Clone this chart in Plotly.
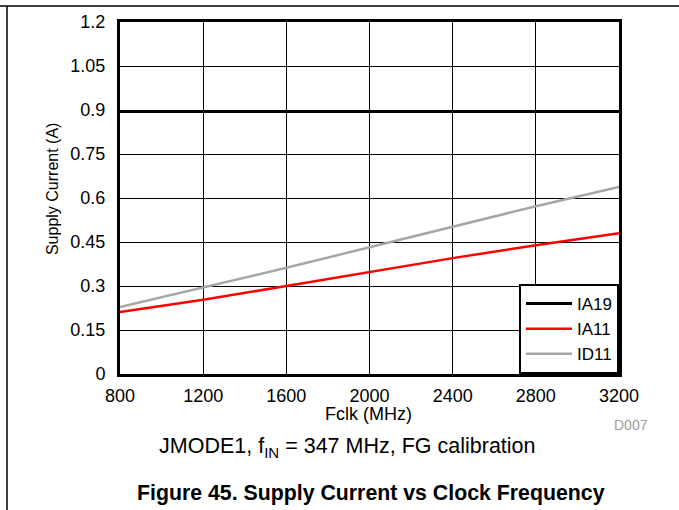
import plotly.graph_objects as go

fclk = [800, 1200, 1600, 2000, 2400, 2800, 3200]
ia19 = [0.895, 0.895, 0.895, 0.895, 0.895, 0.895, 0.895]
ia11 = [0.211, 0.253, 0.300, 0.348, 0.395, 0.439, 0.480]
id11 = [0.228, 0.294, 0.362, 0.432, 0.503, 0.572, 0.638]
x_ticks = [800, 1200, 1600, 2000, 2400, 2800, 3200]
y_ticks = [0, 0.15, 0.3, 0.45, 0.6, 0.75, 0.9, 1.05, 1.2]
y_ticktext = ["0", "0.15", "0.3", "0.45", "0.6", "0.75", "0.9", "1.05", "1.2"]

FONT = "Liberation Sans, Arial, sans-serif"

fig = go.Figure()
fig.add_trace(go.Scatter(x=fclk, y=ia19, mode="lines", name="IA19",
                         line=dict(color="black", width=3)))
fig.add_trace(go.Scatter(x=fclk, y=ia11, mode="lines", name="IA11",
                         line=dict(color="#FF0000", width=2.5)))
fig.add_trace(go.Scatter(x=fclk, y=id11, mode="lines", name="ID11",
                         line=dict(color="#A6A6A6", width=2.5)))

L, R, T, B = 120, 60, 20, 136
W, H = 679, 510
pw, ph = W - L - R, H - T - B

def px(xp):
    return (xp - L) / pw

def py(yp):
    return (H - B - yp) / ph

fig.update_layout(
    width=W, height=H,
    margin=dict(l=L, r=R, t=T, b=B, pad=0),
    paper_bgcolor="white", plot_bgcolor="white",
    font=dict(family=FONT, size=18, color="black"),
    showlegend=True,
    legend=dict(x=1, y=0, xanchor="right", yanchor="bottom",
                bgcolor="white", bordercolor="black", borderwidth=2,
                font=dict(size=17), tracegroupgap=0, itemwidth=46),
)
fig.update_xaxes(range=[800, 3200], tickvals=x_ticks, ticktext=[str(v) for v in x_ticks],
                 showgrid=True, gridcolor="black", gridwidth=1,
                 showline=True, linecolor="black", linewidth=3, mirror=True,
                 ticks="", ticklabelstandoff=3, zeroline=False,
                 tickfont=dict(size=18))
fig.update_yaxes(range=[0, 1.2], tickvals=y_ticks, ticktext=y_ticktext,
                 showgrid=True, gridcolor="black", gridwidth=1,
                 showline=True, linecolor="black", linewidth=3, mirror=True,
                 ticks="", ticklabelstandoff=8, zeroline=False,
                 tickfont=dict(size=18))

ann = []
ann.append(dict(text="Supply Current (A)", x=px(52), y=py(188), xref="paper", yref="paper",
                showarrow=False, textangle=-90, font=dict(size=16), xanchor="center", yanchor="middle"))
ann.append(dict(text="Fclk (MHz)", x=px(368), y=py(414), xref="paper", yref="paper",
                showarrow=False, font=dict(size=18), xanchor="center", yanchor="middle"))
ann.append(dict(text="D007", x=px(631), y=py(425), xref="paper", yref="paper",
                showarrow=False, font=dict(size=14, color="#A0A0A0"), xanchor="center", yanchor="middle"))
ann.append(dict(text="JMODE1, f<sub>IN</sub> = 347 MHz, FG calibration", x=px(347), y=py(448),
                xref="paper", yref="paper", showarrow=False, font=dict(size=21.5),
                xanchor="center", yanchor="middle"))
ann.append(dict(text="<b>Figure 45. Supply Current vs Clock Frequency</b>", x=px(371), y=py(494),
                xref="paper", yref="paper", showarrow=False, font=dict(size=21.3),
                xanchor="center", yanchor="middle"))
fig.update_layout(annotations=ann)

shapes = [
    dict(type="line", xref="paper", yref="paper", x0=px(0), x1=px(679), y0=py(4), y1=py(4),
         line=dict(color="black", width=1.5)),
    dict(type="line", xref="paper", yref="paper", x0=px(7), x1=px(7), y0=py(4), y1=py(512),
         line=dict(color="black", width=1.5)),
]
fig.update_layout(shapes=shapes)

fig.write_html("out.html", config={"displayModeBar": False},
               post_script="document.body.style.margin='0';document.body.style.overflow='hidden';")
